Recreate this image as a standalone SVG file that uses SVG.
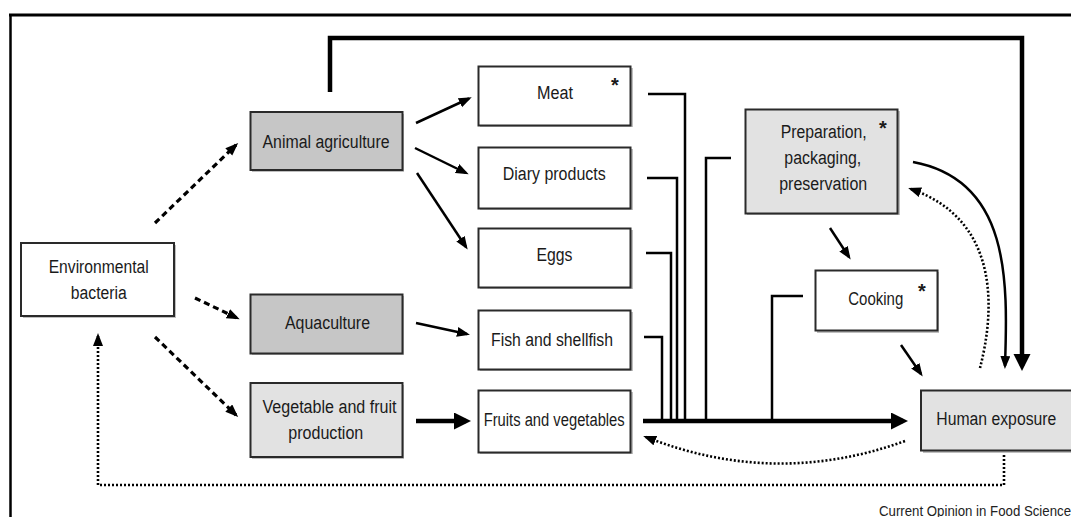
<svg xmlns="http://www.w3.org/2000/svg" width="1071" height="517" viewBox="0 0 1071 517">
<style>
.bx{stroke:#2a2a2a;stroke-width:2}
.sh{fill:#8a8a8a;opacity:0.55}
.w{fill:#ffffff}
.g1{fill:#c6c6c6}
.g2{fill:#e2e2e2}
.t{font-family:"Liberation Sans",Arial,sans-serif;font-size:18px;fill:#1a1a1a;text-anchor:middle}
.st{font-family:"Liberation Sans",Arial,sans-serif;font-size:20px;font-weight:bold;fill:#1a1a1a;text-anchor:middle}
.ln{fill:none;stroke:#000;stroke-width:2.5}
.thick{fill:none;stroke:#000;stroke-width:4.5}
.dash{fill:none;stroke:#000;stroke-width:3.2;stroke-dasharray:6 4}
.dot{fill:none;stroke:#000;stroke-width:2.6;stroke-dasharray:2 2}
</style>
<defs>
<marker id="ah" markerUnits="userSpaceOnUse" markerWidth="14" markerHeight="11" refX="10" refY="5" orient="auto"><path d="M0,0 L13,5 L0,10 z" fill="#000"/></marker>
<marker id="big" markerUnits="userSpaceOnUse" markerWidth="20" markerHeight="18" refX="12" refY="8.5" orient="auto"><path d="M0,0 L17,8.5 L0,17 z" fill="#000"/></marker>
</defs>
<rect width="1071" height="517" fill="#fff"/>
<g id="frame">
<line x1="9" y1="15" x2="1071" y2="15" stroke="#000" stroke-width="3"/>
<line x1="10.5" y1="14" x2="10.5" y2="517" stroke="#000" stroke-width="2.5"/>
</g>
<g id="connectors">
<path class="thick" d="M330,92 V38 H1022 V366" marker-end="url(#big)"/>
<path class="thick" d="M643,421 H903" marker-end="url(#big)"/>
<path class="thick" d="M416,421 H466" marker-end="url(#big)"/>
<path class="ln" d="M416,123 L469,98.5" marker-end="url(#ah)"/>
<path class="ln" d="M415,148 L466,173" marker-end="url(#ah)"/>
<path class="ln" d="M417,173 L466,247" marker-end="url(#ah)"/>
<path class="ln" d="M416,323 L467,334" marker-end="url(#ah)"/>
<path class="ln" d="M830,228 L849,257" marker-end="url(#ah)"/>
<path class="ln" d="M901,345 L921,374" marker-end="url(#ah)"/>
<path class="ln" d="M913,162 C1010,180 1008,280 1005,366" marker-end="url(#ah)"/>
<path class="ln" d="M648,94 H685 V421"/>
<path class="ln" d="M647,178 H677 V421"/>
<path class="ln" d="M646,253 H671 V421"/>
<path class="ln" d="M644,337 H662 V421"/>
<path class="ln" d="M731,158 H706 V421"/>
<path class="ln" d="M803,296 H772 V421"/>
<path class="dash" d="M155,223 L236,145" marker-end="url(#ah)"/>
<path class="dash" d="M195,298 L237,318" marker-end="url(#ah)"/>
<path class="dash" d="M155,337 L236,415" marker-end="url(#ah)"/>
<path class="dot" d="M1004,455 V485 H98 V336" marker-end="url(#ah)"/>
<path class="dot" d="M905,441 Q775,488 646,437" marker-end="url(#ah)"/>
<path class="dot" d="M980,368 C995,310 1000,220 911,189" marker-end="url(#ah)"/>
</g>
<g id="env">
<rect class="sh" x="23" y="245" width="153" height="73"/>
<rect class="bx w" x="21" y="243" width="153" height="73"/>
<text class="t" x="98.7" y="273" textLength="100" lengthAdjust="spacingAndGlyphs">Environmental</text>
<text class="t" x="98.8" y="299" textLength="56" lengthAdjust="spacingAndGlyphs">bacteria</text>
</g>
<g id="animal">
<rect class="sh" x="252" y="114" width="152" height="58"/>
<rect class="bx g1" x="250.5" y="112" width="152" height="58"/>
<text class="t" x="326" y="148" textLength="127" lengthAdjust="spacingAndGlyphs">Animal agriculture</text>
</g>
<g id="aqua">
<rect class="sh" x="252" y="296" width="152" height="59"/>
<rect class="bx g1" x="250.5" y="294.5" width="152" height="59"/>
<text class="t" x="327.5" y="328.5" textLength="85" lengthAdjust="spacingAndGlyphs">Aquaculture</text>
</g>
<g id="veg">
<rect class="sh" x="252" y="385" width="152" height="74"/>
<rect class="bx g2" x="250.5" y="383" width="152" height="74"/>
<text class="t" x="329.5" y="412.5" textLength="134" lengthAdjust="spacingAndGlyphs">Vegetable and fruit</text>
<text class="t" x="325.8" y="438.5" textLength="75" lengthAdjust="spacingAndGlyphs">production</text>
</g>
<g id="meat">
<rect class="sh" x="480" y="68" width="153" height="59"/>
<rect class="bx w" x="478.5" y="66.5" width="152" height="59"/>
<text class="t" x="555" y="99" textLength="36" lengthAdjust="spacingAndGlyphs">Meat</text>
<text class="st" x="615" y="92">*</text>
</g>
<g id="diary">
<rect class="sh" x="480" y="149" width="153" height="61"/>
<rect class="bx w" x="478.5" y="147.5" width="152" height="61"/>
<text class="t" x="554.2" y="180" textLength="103" lengthAdjust="spacingAndGlyphs">Diary products</text>
</g>
<g id="eggs">
<rect class="sh" x="480" y="230" width="153" height="59"/>
<rect class="bx w" x="478.5" y="228.5" width="152" height="59"/>
<text class="t" x="554.5" y="261" textLength="36" lengthAdjust="spacingAndGlyphs">Eggs</text>
</g>
<g id="fish">
<rect class="sh" x="480" y="312" width="153" height="59"/>
<rect class="bx w" x="478.5" y="310.5" width="152" height="59"/>
<text class="t" x="552" y="346" textLength="122" lengthAdjust="spacingAndGlyphs">Fish and shellfish</text>
</g>
<g id="fruits">
<rect class="sh" x="480" y="392" width="153" height="62"/>
<rect class="bx w" x="478.5" y="390.5" width="152" height="62"/>
<text class="t" x="554.2" y="426" textLength="141" lengthAdjust="spacingAndGlyphs">Fruits and vegetables</text>
</g>
<g id="prep">
<rect class="sh" x="747" y="111" width="153" height="104"/>
<rect class="bx g2" x="745.5" y="109.5" width="152" height="104"/>
<text class="t" x="823.7" y="138" textLength="86" lengthAdjust="spacingAndGlyphs">Preparation,</text>
<text class="t" x="822.8" y="164" textLength="77" lengthAdjust="spacingAndGlyphs">packaging,</text>
<text class="t" x="823.2" y="190" textLength="88" lengthAdjust="spacingAndGlyphs">preservation</text>
<text class="st" x="883" y="135">*</text>
</g>
<g id="cooking">
<rect class="sh" x="817" y="272" width="122" height="61"/>
<rect class="bx w" x="815.5" y="270.5" width="122" height="60"/>
<text class="t" x="875.8" y="305" textLength="55" lengthAdjust="spacingAndGlyphs">Cooking</text>
<text class="st" x="922" y="298">*</text>
</g>
<g id="human">
<rect class="sh" x="923" y="392" width="160" height="61"/>
<rect class="bx g2" x="921" y="390.5" width="160" height="60"/>
<text class="t" x="996.3" y="425" textLength="120" lengthAdjust="spacingAndGlyphs">Human exposure</text>
</g>
<text x="879" y="516" font-family="Liberation Sans, Arial, sans-serif" font-size="14" fill="#222" textLength="192" lengthAdjust="spacingAndGlyphs">Current Opinion in Food Science</text>
</svg>
